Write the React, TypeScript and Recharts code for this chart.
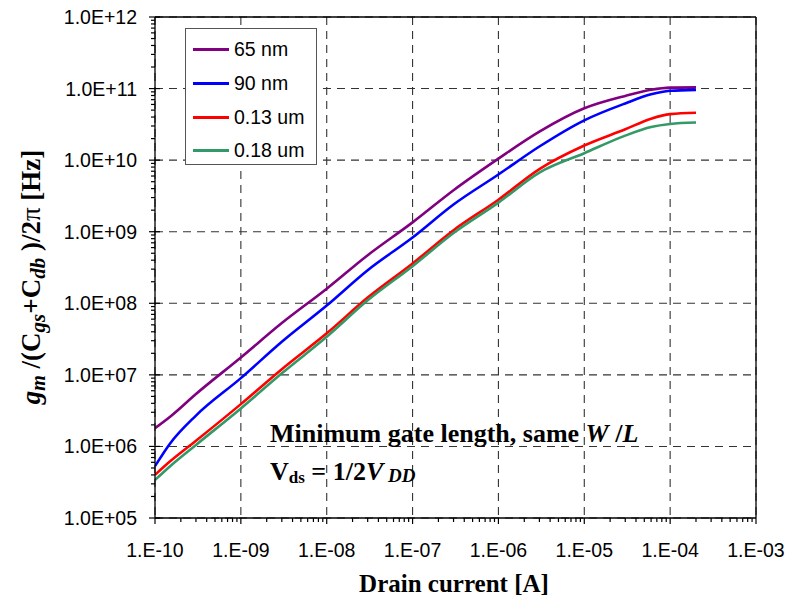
import { CartesianGrid, Customized, Legend, Line, LineChart, ReferenceLine, XAxis, YAxis } from 'recharts'

// drain current [A]
const currents = [1e-10, 1.5e-10, 3e-10, 1e-9, 3e-9, 1e-8, 3e-8, 1e-7, 3e-7, 1e-6, 3e-6, 1e-5, 3e-5, 6e-5, 1e-4, 2e-4]

// gm/(Cgs+Cdb)/2pi [Hz]
const ft65nm = [1.8e6, 2.6e6, 5.4e6, 1.75e7, 5.3e7, 1.6e8, 4.7e8, 1.35e9, 3.8e9, 1.05e10, 2.5e10, 5.3e10, 7.9e10, 9.6e10, 1.03e11, 1.04e11]
const ft90nm = [5.3e5, 1.1e6, 2.7e6, 9.0e6, 2.9e7, 9.3e7, 2.9e8, 8.3e8, 2.4e9, 6.3e9, 1.55e10, 3.6e10, 6.2e10, 8.3e10, 9.3e10, 9.6e10]
const ft130nm = [4.0e5, 6.2e5, 1.2e6, 3.9e6, 1.2e7, 3.8e7, 1.2e8, 3.6e8, 1.05e9, 2.8e9, 7.5e9, 1.6e10, 2.7e10, 3.8e10, 4.4e10, 4.6e10]
const ft180nm = [3.4e5, 5.3e5, 1.05e6, 3.4e6, 1.05e7, 3.4e7, 1.1e8, 3.3e8, 9.6e8, 2.55e9, 6.7e9, 1.25e10, 2.2e10, 2.9e10, 3.2e10, 3.35e10]

const seriesKeys = ['n65', 'n90', 'n130', 'n180']
const seriesNames = ['65 nm', '90 nm', '0.13 um', '0.18 um']
const seriesColors = ['#800080', '#0000ff', '#ff0000', '#339966']

const xDecades = [-10, -9, -8, -7, -6, -5, -4, -3]
const yDecades = [5, 6, 7, 8, 9, 10, 11, 12]

const data = currents.map((x, i) => ({
  x,
  n65: ft65nm[i],
  n90: ft90nm[i],
  n130: ft130nm[i],
  n180: ft180nm[i],
}))

const majors = (decades: number[]) => decades.map((d) => Math.pow(10, d))
const withMinors = (decades: number[]) => {
  const out: number[] = []
  decades.forEach((d, i) => {
    out.push(Math.pow(10, d))
    if (i < decades.length - 1) for (let m = 2; m <= 9; m++) out.push(m * Math.pow(10, d))
  })
  return out
}

const isMajor = (v: number) => Math.abs(Math.log10(v) - Math.round(Math.log10(v))) < 1e-6
const expOf = (v: number) => Math.round(Math.log10(v))
const pad = (e: number) => (e < 0 ? '-' : '+') + String(Math.abs(e)).padStart(2, '0')

const sans = '"Liberation Sans", Arial, sans-serif'
const serif = '"Liberation Serif", "Times New Roman", serif'

const XTick = ({ x, y, payload }: any) => {
  const major = isMajor(payload.value)
  return (
    <g>
      <line x1={x} x2={x} y1={y} y2={y + (major ? 6 : 4)} stroke="#000" strokeWidth={1.2} />
      {major ? (
        <text x={x} y={y + 39} textAnchor="middle" fontFamily={sans} fontSize={19.5} fill="#000">
          {'1.E' + pad(expOf(payload.value))}
        </text>
      ) : null}
    </g>
  )
}

const YTick = ({ x, y, payload }: any) => {
  const major = isMajor(payload.value)
  return (
    <g>
      <line x1={x - (major ? 6 : 4)} x2={major ? x + 5 : x} y1={y} y2={y} stroke="#000" strokeWidth={1.2} />
      {major ? (
        <text x={x - 18} y={y + 7} textAnchor="end" fontFamily={sans} fontSize={19.5} fill="#000">
          {'1.0E' + pad(expOf(payload.value))}
        </text>
      ) : null}
    </g>
  )
}

const LegendBox = () => (
  <div
    style={{
      width: 130,
      height: 132,
      border: '1.5px solid #555',
      background: '#fff',
      boxSizing: 'content-box',
      paddingTop: 3,
    }}
  >
    {seriesNames.map((name, i) => (
      <div key={name} style={{ display: 'flex', alignItems: 'center', height: 34 - (i === 3 ? 1 : 0) }}>
        <div style={{ width: 36, height: 3, background: seriesColors[i], marginLeft: 7, marginRight: 5 }} />
        <span style={{ fontFamily: sans, fontSize: 19.5, color: '#000' }}>{name}</span>
      </div>
    ))}
  </div>
)

const Titles = () => (
  <g>
    <text
      transform="translate(40, 277) rotate(-90)"
      textAnchor="middle"
      fontFamily={serif}
      fontWeight="bold"
      fontSize={27}
      fill="#000"
    >
      <tspan fontStyle="italic">g</tspan>
      <tspan fontStyle="italic" fontSize={20} dy={5}>m</tspan>
      <tspan dy={-5}> /(C</tspan>
      <tspan fontStyle="italic" fontSize={21} dy={5}>gs</tspan>
      <tspan dy={-5}>+C</tspan>
      <tspan fontStyle="italic" fontSize={21} dy={5}>db</tspan>
      <tspan dy={-5}> )/2</tspan>
      <tspan fontWeight="normal">π</tspan>
      <tspan> [Hz]</tspan>
    </text>
    <text x={454} y={592} textAnchor="middle" fontFamily={serif} fontWeight="bold" fontSize={25} fill="#000">
      Drain current [A]
    </text>
    <text x={270} y={442} fontFamily={serif} fontWeight="bold" fontSize={26} fill="#000">
      Minimum gate length, same <tspan fontStyle="italic">W</tspan> /<tspan fontStyle="italic">L</tspan>
    </text>
    <text x={270} y={480} fontFamily={serif} fontWeight="bold" fontSize={26} fill="#000">
      V<tspan fontSize={17} dy={3}>ds</tspan>
      <tspan dy={-3}> = 1/2</tspan>
      <tspan fontStyle="italic">V</tspan>
      <tspan fontStyle="italic" fontSize={19} dy={2}> DD</tspan>
    </text>
  </g>
)

export default function App() {
  return (
    <div style={{ position: 'absolute', left: 0, top: 0, width: 789, height: 597, background: '#fff' }}>
      <LineChart width={789} height={597} data={data} margin={{ top: 17, right: 33, left: 0, bottom: 0 }}>
        <XAxis
          xAxisId="g"
          hide
          dataKey="x"
          type="number"
          scale="log"
          domain={[1e-10, 1e-3]}
          ticks={majors(xDecades)}
          allowDataOverflow
        />
        <YAxis
          yAxisId="g"
          hide
          type="number"
          scale="log"
          domain={[1e5, 1e12]}
          ticks={majors(yDecades)}
          allowDataOverflow
        />
        <CartesianGrid xAxisId="g" yAxisId="g" stroke="#333" strokeDasharray="8 6" strokeWidth={1.1} />
        <XAxis
          dataKey="x"
          type="number"
          scale="log"
          domain={[1e-10, 1e-3]}
          ticks={withMinors(xDecades)}
          interval={0}
          allowDataOverflow
          height={79}
          tickSize={0}
          tickMargin={0}
          tickLine={false}
          tick={<XTick />}
          axisLine={{ stroke: '#000', strokeWidth: 1.3 }}
        />
        <YAxis
          type="number"
          scale="log"
          domain={[1e5, 1e12]}
          ticks={withMinors(yDecades)}
          interval={0}
          allowDataOverflow
          width={155}
          tickSize={0}
          tickMargin={0}
          tickLine={false}
          tick={<YTick />}
          axisLine={{ stroke: '#000', strokeWidth: 1.3 }}
        />
        <ReferenceLine x={1e-3} stroke="#000" strokeWidth={1.3} />
        <ReferenceLine y={1e12} stroke="#000" strokeWidth={1.3} />
        {seriesKeys.map((key, i) => (
          <Line
            key={key}
            dataKey={key}
            name={seriesNames[i]}
            stroke={seriesColors[i]}
            strokeWidth={2.6}
            dot={false}
            type="monotone"
            isAnimationActive={false}
          />
        ))}
        <Legend
          layout="vertical"
          align="center"
          verticalAlign="middle"
          content={<LegendBox />}
          wrapperStyle={{ position: 'absolute', left: 185, top: 28, width: 134, height: 136 }}
        />
        <Customized component={<Titles />} />
      </LineChart>
    </div>
  )
}
